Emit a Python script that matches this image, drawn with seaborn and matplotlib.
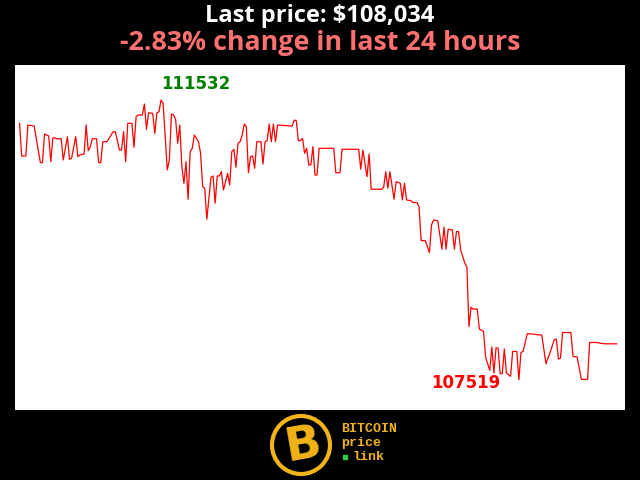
import numpy as np
import pandas as pd
import seaborn as sns
import matplotlib.pyplot as plt
from matplotlib.patches import Circle

# 5-minute samples over the last 24 hours (sample number, price in USD)
steps = [0, 1, 3, 4, 7, 10, 11, 12, 14, 15, 16, 18, 20, 21, 23, 24, 25, 27, 28, 29,
         31, 32, 33, 34, 35, 37, 38, 39, 40, 42, 45, 46, 48, 49, 50, 51, 52, 54, 55, 56,
         57, 59, 60, 61, 62, 64, 65, 66, 67, 68, 69, 71, 72, 73, 74, 75, 76, 77, 78, 79,
         80, 81, 82, 83, 84, 86, 87, 88, 89, 90, 92, 93, 94, 95, 96, 97, 98, 100, 101, 102,
         103, 104, 105, 106, 107, 108, 109, 110, 111, 112, 113, 114, 116, 117, 118, 119, 120, 121, 122, 123,
         124, 131, 132, 133, 134, 135, 136, 137, 138, 139, 140, 141, 142, 143, 144, 151, 152, 154, 155, 163,
         164, 165, 167, 168, 169, 174, 175, 176, 177, 178, 180, 181, 183, 184, 185, 186, 188, 189, 191, 192,
         193, 195, 197, 198, 199, 201, 203, 204, 205, 206, 208, 209, 210, 211, 212, 214, 215, 216, 217, 218,
         220, 221, 223, 224, 226, 227, 228, 229, 230, 231, 232, 233, 234, 236, 237, 239, 240, 241, 242, 244,
         247, 249, 251, 253, 255, 257, 258, 259, 260, 261, 265, 266, 268, 270, 273, 274, 277, 281, 287]
prices = [111198, 110730, 110730, 111174, 111159, 110634, 110634, 111045, 111016, 110648,
          110992, 110977, 110977, 110672, 111006, 110682, 110697, 111006, 110720, 110744,
          110758, 111174, 110806, 110863, 110977, 110977, 110634, 110634, 110934, 110934,
          111078, 111078, 110816, 110816, 111078, 110648, 111198, 111198, 110854, 111293,
          111317, 111317, 111475, 111112, 111350, 111341, 111055, 111350, 111364, 111532,
          111485, 110529, 110672, 111331, 111317, 111255, 110912, 111174, 110576, 110338,
          110648, 110109, 110791, 110840, 111030, 110934, 110768, 110290, 110267, 109822,
          110424, 110443, 110052, 110443, 110443, 110505, 110242, 110479, 110314, 110791,
          110826, 110568, 110912, 110934, 111030, 111188, 111149, 110490, 110720, 110730,
          110553, 110934, 110934, 110615, 110934, 110950, 111188, 110934, 111188, 110934,
          111174, 111159, 111245, 111235, 110949, 110949, 110983, 110768, 110840, 110601,
          110601, 110863, 110457, 110457, 110840, 110840, 110490, 110490, 110826, 110826,
          110539, 110815, 110433, 110758, 110252, 110252, 110281, 110505, 110267, 110505,
          110109, 110361, 110338, 110099, 110338, 110099, 110089, 110062, 110062, 110003,
          109516, 109516, 109344, 109741, 109812, 109798, 109393, 109708, 109393, 109679,
          109669, 109393, 109645, 109645, 109382, 109192, 109143, 108283, 108561, 108533,
          108533, 108246, 108213, 107845, 107653, 107988, 107616, 107974, 107974, 107606,
          107606, 107960, 107616, 107568, 107925, 107925, 107519, 107911, 107925, 108179,
          108174, 108164, 108160, 107749, 107911, 108093, 108103, 107816, 107830, 108197,
          108197, 107855, 107846, 107525, 107525, 108054, 108054, 108035, 108034]

title_price = "Last price: $108,034"
title_change = "-2.83% change in last 24 hours"

df = pd.DataFrame({"minute": np.array(steps) * 5, "price": prices})

fig = plt.figure(figsize=(6.4, 4.8), dpi=100, facecolor="black")
ax = fig.add_axes([15 / 640, 70 / 480, 610 / 640, 345 / 480])
ax.set_facecolor("white")

sns.lineplot(data=df, x="minute", y="price", color="red", linewidth=0.9, ax=ax)

ax.set_xlim(-11, 1455)
ax.set_ylim(107085, 112035)
ax.set_xticks([])
ax.set_yticks([])
ax.set_xlabel("")
ax.set_ylabel("")
for s in ax.spines.values():
    s.set_visible(False)

# high / low labels
hi = df.loc[df["price"].idxmax()]
lo = df.loc[df["price"].idxmin()]
ax.annotate(str(int(hi["price"])), (hi["minute"], hi["price"]), xytext=(0, 16),
            textcoords="offset pixels", ha="left", va="center",
            color="green", fontsize=12, fontweight="bold")
ax.annotate(str(int(lo["price"])), (lo["minute"], lo["price"]), xytext=(-18, -3),
            textcoords="offset pixels", ha="right", va="center",
            color="red", fontsize=12, fontweight="bold")

# header
fig.text(0.5, 1 - 16 / 480, title_price, ha="center", va="center", color="white",
         fontsize=17, fontweight="bold", family="Open Sans")
fig.text(0.5, 1 - 43 / 480, title_change, ha="center", va="center", color="#ff7070",
         fontsize=19.3, fontweight="bold", family="Open Sans")

# logo
orange = "#f2b418"
logo = fig.add_axes([0, 0, 1, 70 / 480])
logo.set_xlim(0, 640)
logo.set_ylim(70, 0)
logo.set_aspect("equal")
logo.axis("off")
logo.add_patch(Circle((301, 35), 29, facecolor="black", edgecolor=orange, linewidth=3))
logo.text(303, 36, "B", ha="center", va="center", color=orange, fontsize=34,
          fontweight="bold", rotation=10, family="DejaVu Sans")
logo.text(341, 19, "BITCOIN", ha="left", va="center", color=orange,
          fontsize=9.5, fontweight="bold", family="Liberation Mono")
logo.text(341, 33, "price", ha="left", va="center", color=orange,
          fontsize=9.5, fontweight="bold", family="Liberation Mono")
logo.text(352, 47, "link", ha="left", va="center", color=orange,
          fontsize=9.5, fontweight="bold", family="Liberation Mono")
logo.plot(345, 47, marker="s", markersize=2.5, color="#2ecc40")

fig.savefig("out.png", dpi=100, facecolor="black")
